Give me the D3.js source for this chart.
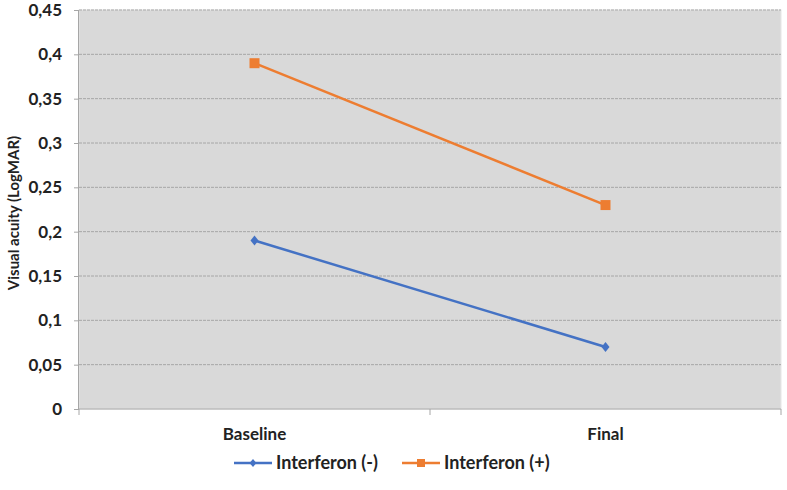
<!DOCTYPE html>
<html>
<head>
<meta charset="utf-8">
<script src="https://cdn.jsdelivr.net/npm/d3@7"></script>
<style>
  body { margin: 0; background: #fff; }
  text { font-family: Lato, "Open Sans", sans-serif; font-weight: bold; fill: #222; }
</style>
</head>
<body>
<div id="chart"></div>
<script>
const width = 787;
const height = 490;

// data
const categories = ["Baseline", "Final"];
const seriesNames = ["Interferon (-)", "Interferon (+)"];
const interferonNeg = [0.19, 0.07];
const interferonPos = [0.39, 0.23];
const yTicks = [0, 0.05, 0.1, 0.15, 0.2, 0.25, 0.3, 0.35, 0.4, 0.45];

const colors = ["#4472c4", "#ed7d31"];
const margin = { top: 10, right: 6, bottom: 81, left: 79 };
const plotW = width - margin.left - margin.right;
const plotH = height - margin.top - margin.bottom;

const svg = d3.select("#chart")
  .append("svg")
  .attr("width", width)
  .attr("height", height);

const g = svg.append("g")
  .attr("transform", `translate(${margin.left},${margin.top})`);

const x = d3.scaleBand().domain(categories).range([0, plotW]);
const y = d3.scaleLinear().domain([0, 0.45]).range([plotH, 0]);

// plot background
g.append("rect")
  .attr("width", plotW)
  .attr("height", plotH)
  .attr("fill", "#d9d9d9")
  .attr("stroke", "#e6e6e6");

// gridlines
g.selectAll(".grid")
  .data(yTicks.slice(1))
  .enter()
  .append("line")
  .attr("x1", 0)
  .attr("x2", plotW)
  .attr("y1", d => y(d))
  .attr("y2", d => y(d))
  .attr("stroke", "#a6a6a6")
  .attr("stroke-width", 1)
  .attr("stroke-dasharray", "3,1");

// y axis
const yAxis = g.append("g")
  .call(d3.axisLeft(y).tickValues(yTicks).tickSize(5).tickPadding(12)
    .tickFormat(d => String(d).replace(".", ",")));
yAxis.select(".domain").attr("stroke", "#a6a6a6").attr("d", `M-0.5,0V${plotH}`);
yAxis.selectAll(".tick line").attr("stroke", "#a6a6a6");
yAxis.selectAll(".tick text").style("font-size", "17px").attr("fill", "#222");

// x axis (ticks at band boundaries)
const xAxis = g.append("g")
  .attr("transform", `translate(0,${plotH})`);
xAxis.append("line")
  .attr("x1", 0).attr("x2", plotW)
  .attr("stroke", "#a6a6a6");
xAxis.selectAll(".bt")
  .data([0, plotW / 2, plotW])
  .enter()
  .append("line")
  .attr("x1", d => d).attr("x2", d => d)
  .attr("y1", 0).attr("y2", 6)
  .attr("stroke", "#a6a6a6");
xAxis.selectAll(".cat")
  .data(categories)
  .enter()
  .append("text")
  .attr("x", d => x(d) + x.bandwidth() / 2)
  .attr("y", 31)
  .attr("text-anchor", "middle")
  .style("font-size", "17px")
  .text(d => d);

// y axis title
svg.append("text")
  .attr("transform", `translate(19,${margin.top + 203}) rotate(-90)`)
  .attr("text-anchor", "middle")
  .style("font-size", "15px")
  .text("Visual acuity (LogMAR)");

const line = d3.line()
  .x((d, i) => x(categories[i]) + x.bandwidth() / 2)
  .y(d => y(d));

const allSeries = [interferonNeg, interferonPos];

allSeries.forEach((vals, si) => {
  g.append("path")
    .datum(vals)
    .attr("fill", "none")
    .attr("stroke", colors[si])
    .attr("stroke-width", 2.5)
    .attr("d", line);

  const pts = g.selectAll(null)
    .data(vals)
    .enter()
    .append("path")
    .attr("transform", (d, i) => `translate(${x(categories[i]) + x.bandwidth() / 2},${y(d)})`)
    .attr("fill", colors[si]);
  if (si === 0) {
    pts.attr("d", "M0,-5L4,0L0,5L-4,0Z");
  } else {
    pts.attr("d", "M-5,-5H5V5H-5Z");
  }
});

// legend
const legendX = [234, 402];
const legend = svg.selectAll(".legend")
  .data(seriesNames)
  .enter()
  .append("g")
  .attr("transform", (d, i) => `translate(${legendX[i]},463)`);
legend.append("line")
  .attr("x1", 0).attr("x2", 38)
  .attr("stroke", (d, i) => colors[i])
  .attr("stroke-width", 2.5);
legend.append("path")
  .attr("transform", "translate(19,0)")
  .attr("fill", (d, i) => colors[i])
  .attr("d", (d, i) => i === 0 ? "M0,-4L3.5,0L0,4L-3.5,0Z" : "M-4,-4H4V4H-4Z");
legend.append("text")
  .attr("x", 42)
  .attr("y", 6)
  .style("font-size", "18px")
  .text(d => d);
</script>
</body>
</html>
